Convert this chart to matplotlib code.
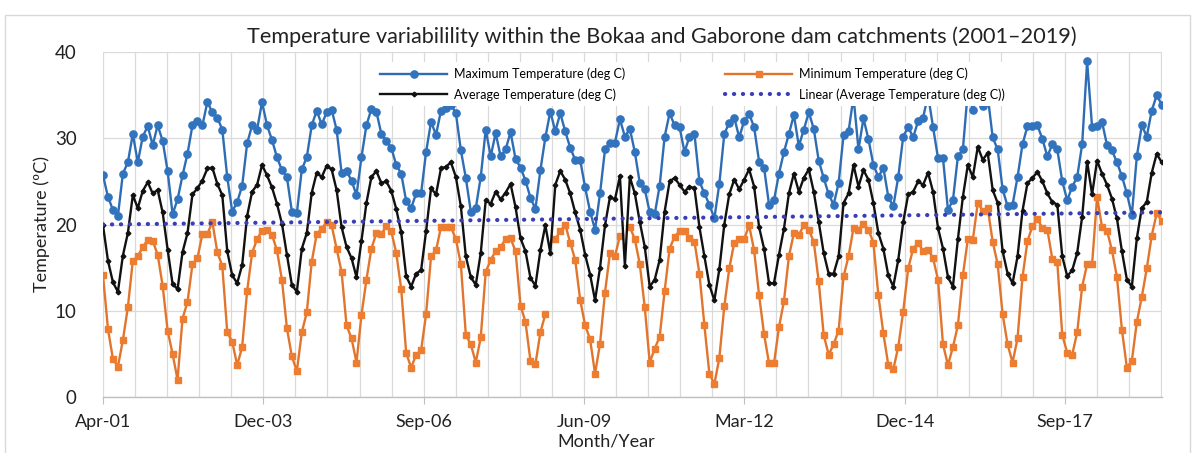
import numpy as np
import pandas as pd
import matplotlib
matplotlib.use("Agg")
import matplotlib.pyplot as plt
import matplotlib.dates as mdates
from matplotlib.patches import Rectangle

plt.rcParams['font.family'] = ['Lato', 'DejaVu Sans']

# readings every 31 days starting April 2001 (deg C)
max_temp = [
    25.7, 23.2, 21.7, 21.0, 25.9, 27.2, 30.5, 27.2, 30.2, 31.4,
    29.2, 31.5, 29.7, 26.2, 21.2, 22.9, 25.7, 28.2, 31.5, 32.0,
    31.5, 34.2, 33.0, 32.4, 31.0, 25.5, 21.5, 22.6, 24.5, 29.4,
    31.5, 31.0, 34.2, 31.5, 29.8, 27.8, 26.3, 25.5, 21.5, 21.3,
    26.4, 27.8, 31.5, 33.2, 31.6, 33.0, 33.3, 31.0, 26.0, 26.2,
    25.1, 23.4, 27.8, 31.5, 33.4, 33.1, 30.5, 29.7, 28.9, 26.9,
    25.9, 22.7, 21.9, 23.6, 23.6, 28.4, 31.9, 30.4, 33.2, 33.5,
    33.9, 32.9, 28.6, 25.4, 21.5, 21.9, 25.5, 31.0, 27.9, 30.6,
    27.9, 28.7, 30.7, 27.6, 26.6, 25.1, 23.1, 21.8, 26.3, 30.1,
    33.1, 30.8, 32.9, 30.8, 28.9, 27.5, 27.5, 24.3, 21.5, 19.4,
    23.6, 28.7, 29.5, 29.5, 32.2, 30.2, 31.1, 28.4, 24.8, 24.1,
    21.4, 21.2, 24.5, 30.2, 32.9, 31.5, 31.3, 28.4, 30.2, 30.5,
    25.0, 23.6, 22.3, 20.7, 24.7, 30.5, 31.8, 32.4, 30.1, 32.0,
    32.8, 31.3, 27.3, 26.6, 22.3, 22.8, 25.9, 28.4, 30.5, 32.7,
    29.1, 31.0, 33.0, 31.1, 27.4, 25.4, 23.5, 22.3, 24.8, 30.4,
    30.8, 34.8, 28.7, 32.3, 29.9, 26.9, 25.5, 26.6, 23.2, 22.1,
    25.5, 30.2, 31.3, 30.1, 32.0, 32.4, 35.0, 31.3, 27.7, 27.7,
    21.7, 22.8, 27.9, 28.7, 35.5, 33.3, 35.5, 33.7, 34.9, 30.1,
    28.7, 24.1, 22.1, 22.3, 25.5, 29.3, 31.4, 31.4, 31.5, 29.9,
    27.9, 29.3, 28.7, 25.0, 22.8, 24.4, 25.5, 29.3, 38.9, 31.3,
    31.4, 31.9, 29.2, 28.6, 27.2, 25.6, 23.6, 21.1, 27.9, 31.5,
    30.2, 33.2, 35.0, 33.9,
]

# nan marks months with no minimum recorded
min_temp = [
    14.1, 7.9, 4.4, 3.5, 6.6, 10.4, 15.8, 16.3, 17.4, 18.2,
    18.1, 16.5, 12.9, 7.7, 5.0, 2.0, 9.1, 11.0, 15.4, 16.1,
    18.9, 18.9, 20.3, 16.8, 15.2, 7.5, 6.4, 3.7, 5.8, 12.3,
    16.7, 18.3, 19.3, 19.4, 18.8, 17.0, 13.6, 8.0, 4.7, 3.0,
    7.5, 9.8, 15.7, 18.9, 19.5, 20.3, 19.9, 17.2, 14.5, 8.3,
    6.8, 4.0, 9.5, 13.6, 17.2, 19.0, 18.9, 19.8, 19.2, 16.7,
    12.5, 5.1, 3.4, 4.9, 5.4, 9.6, 16.3, 17.0, 19.7, 19.7,
    19.7, 18.3, 15.4, 7.2, 6.1, 4.0, 6.9, 14.5, 15.9, 16.9,
    17.4, 18.3, 18.4, 16.9, 10.6, 8.7, 4.2, 3.8, 7.5, 9.6,
    np.nan, 18.3, 19.2, 20.0, 17.9, 15.9, 11.3, 8.3, 6.7, 2.7,
    6.2, 12.1, 16.7, 16.3, 18.7, np.nan, 19.7, 18.3, 15.4, 10.4,
    4.0, 5.6, 7.0, 12.3, 17.2, 18.6, 19.2, 19.3, 18.4, 18.0,
    14.3, 8.3, 2.7, 1.5, 4.5, 10.5, 14.9, 17.9, 18.3, 18.3,
    19.9, 17.0, 11.8, 7.3, 3.9, 3.9, 8.1, 11.1, 16.3, 19.0,
    18.8, 19.9, 19.4, 18.0, 13.4, 7.2, 4.9, 6.1, 7.7, 14.0,
    16.3, 19.6, 19.4, 20.1, 19.4, 17.9, 11.8, 7.4, 3.7, 3.2,
    5.8, 9.9, 14.9, 17.2, 17.9, 16.9, 17.1, 16.1, 13.6, 6.1,
    3.7, 5.8, 8.3, 14.1, 18.3, 18.2, 22.5, 21.6, 21.9, 18.0,
    15.4, 9.6, 6.1, 4.0, 6.8, 13.9, 18.1, 19.8, 20.6, 19.6,
    19.4, 16.0, 15.6, 7.2, 5.1, 4.9, 7.5, 12.8, 15.4, 15.4,
    23.2, 19.7, 19.3, 17.0, 13.9, 7.8, 3.4, 4.2, 8.7, 11.6,
    14.9, 18.7, 21.3, 20.4,
]

avg_temp = [
    19.9, 15.8, 13.3, 12.2, 16.4, 19.0, 23.4, 21.9, 23.9, 24.9,
    23.6, 24.0, 21.4, 17.1, 13.1, 12.5, 16.8, 19.0, 23.5, 24.2,
    25.1, 26.5, 26.6, 24.7, 23.4, 16.9, 14.1, 13.2, 15.3, 21.0,
    23.8, 24.6, 26.9, 25.7, 24.3, 22.4, 20.1, 16.5, 13.0, 12.2,
    17.2, 19.0, 23.7, 26.0, 25.5, 26.8, 26.4, 24.0, 19.7, 17.4,
    16.1, 13.9, 18.1, 22.5, 25.5, 26.2, 24.8, 25.0, 23.9, 21.8,
    19.1, 14.0, 12.8, 14.3, 14.7, 19.2, 24.2, 23.5, 26.5, 26.7,
    27.2, 25.5, 22.1, 16.3, 13.9, 13.0, 16.7, 22.8, 22.4, 23.8,
    22.9, 23.7, 24.7, 22.0, 18.4, 16.9, 13.8, 12.9, 17.0, 19.9,
    16.7, 24.6, 26.2, 25.2, 23.6, 21.4, 19.4, 16.5, 14.2, 11.2,
    15.0, 19.9, 23.2, 22.9, 25.6, 15.2, 25.5, 23.6, 20.3, 17.4,
    12.8, 13.6, 15.9, 21.5, 25.0, 25.4, 24.6, 23.8, 24.4, 24.2,
    19.7, 16.3, 13.0, 11.2, 14.8, 20.0, 23.5, 25.2, 24.1, 25.2,
    26.4, 24.4, 19.7, 17.2, 13.2, 13.2, 16.5, 19.5, 23.6, 25.9,
    23.8, 25.4, 26.4, 23.8, 20.3, 16.7, 14.3, 14.3, 16.3, 22.5,
    23.6, 26.9, 24.4, 26.3, 25.2, 22.5, 19.0, 17.2, 14.1, 12.8,
    15.9, 20.3, 23.5, 23.8, 25.0, 24.6, 26.0, 23.8, 19.6, 17.2,
    13.9, 12.8, 18.3, 23.2, 26.9, 25.5, 29.0, 27.5, 28.3, 24.0,
    22.5, 16.9, 14.3, 13.2, 16.3, 21.6, 24.8, 25.4, 26.1, 25.0,
    23.6, 22.6, 22.3, 16.3, 14.0, 14.7, 16.7, 20.9, 27.3, 23.5,
    27.4, 25.9, 24.6, 23.0, 20.7, 16.9, 13.6, 12.8, 18.4, 21.9,
    22.6, 26.0, 28.2, 27.2,
]

start = pd.Timestamp('2001-04-01')
dates = pd.date_range(start, periods=len(avg_temp), freq='31D')
xnum = mdates.date2num(dates)
t0 = mdates.date2num(start)

# linear trend of the average series
slope, icpt = np.polyfit(xnum, np.array(avg_temp), 1)
trend = slope * xnum + icpt

W, H = 1196, 453
fig = plt.figure(figsize=(W / 100, H / 100), dpi=100)
ax = fig.add_axes([103 / W, 1 - 397 / H, (1162 - 103) / W, (397 - 52) / H])

ax.plot(dates, max_temp, color='#2E6DB4', lw=1.7, marker='o', ms=5.2,
        mfc='#3273BE', mec='#3273BE', label='Maximum Temperature (deg C)', zorder=3)
ax.plot(dates, min_temp, color='#E2752D', lw=1.7, marker='s', ms=4.8,
        mfc='#ED7D31', mec='#ED7D31', label='Minimum Temperature (deg C)', zorder=3)
ax.plot(dates, avg_temp, color='#111111', lw=1.7, marker='D', ms=2.4,
        label='Average Temperature (deg C)', zorder=4)
ax.plot(dates, trend, color='#3A3DB5', lw=3.0, linestyle=(0, (0.05, 2.1)),
        dash_capstyle='round', label='Linear (Average Temperature (deg C))', zorder=5)

ax.set_ylim(0, 40)
ax.set_yticks([0, 10, 20, 30, 40])
ax.set_xlim(t0, t0 + 6605)
ax.xaxis.set_major_locator(mdates.ticker.FixedLocator(t0 + np.arange(0, 6605, 1000)))
ax.xaxis.set_minor_locator(mdates.ticker.FixedLocator(t0 + np.arange(0, 6605, 200)))
ax.xaxis.set_major_formatter(mdates.DateFormatter('%b-%y'))

ax.grid(which='both', color='#DADADA', lw=0.9)
ax.set_axisbelow(True)
for s in ['left', 'right', 'top']:
    ax.spines[s].set_visible(False)
ax.spines['bottom'].set_color('#BFBFBF')
ax.spines['bottom'].set_linewidth(1.0)
ax.tick_params(axis='x', which='major', length=5, color='#BFBFBF', labelsize=13,
               labelcolor='#222222', pad=7)
ax.tick_params(axis='x', which='minor', length=0)
ax.tick_params(axis='y', length=0, labelsize=13.5, labelcolor='#222222', pad=19)

ax.set_xlabel('Month/Year', fontsize=13, color='#222222', labelpad=0)
ax.xaxis.set_label_coords(0.475, -0.106)
ax.set_ylabel('Temperature (ºC)', fontsize=13, color='#222222')
ax.yaxis.set_label_coords(-0.05, 0.5)

fig.text(662 / W, 1 - 37 / H, 'Temperature variabilility within the Bokaa and Gaborone dam catchments (2001\u20132019)',
         ha='center', va='center', fontsize=15.6, color='#222222')

handles, labels = ax.get_legend_handles_labels()
order = [0, 2, 1, 3]
leg = fig.legend([handles[k] for k in order], [labels[k] for k in order],
                 loc='upper left', bbox_to_anchor=(368 / W, 1 - 56 / H), ncol=2,
                 fontsize=9, handlelength=5.4, handletextpad=0.5, columnspacing=8.0,
                 labelspacing=0.62, borderpad=0.45, frameon=True, fancybox=False)
leg.get_frame().set_facecolor('white')
leg.get_frame().set_edgecolor('none')
leg.get_frame().set_alpha(1)
leg.set_zorder(10)

fig.patches.append(Rectangle((5 / W, -0.1), (1190 - 5) / W, 1.1 - 15 / H,
                             transform=fig.transFigure, fill=False,
                             edgecolor='#D9D9D9', lw=1.0))

fig.savefig('out.png', dpi=100)
